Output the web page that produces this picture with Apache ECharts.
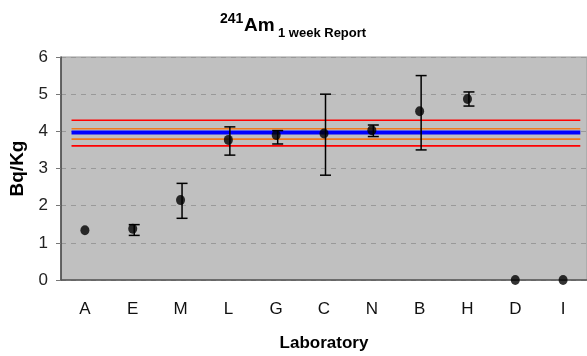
<!DOCTYPE html>
<html>
<head>
<meta charset="utf-8">
<script src="https://cdn.jsdelivr.net/npm/echarts@6/dist/echarts.min.js"></script>
<style>html,body{margin:0;padding:0;background:#fff}#c{width:587px;height:356px}</style>
</head>
<body>
<div id="c"></div>
<script>
var labs = ['A','E','M','L','G','C','N','B','H','D','I'];
var values = [1.34, 1.38, 2.15, 3.77, 3.90, 3.94, 4.03, 4.54, 4.87, 0, 0];
var errLow  = [null, 1.20, 1.66, 3.36, 3.66, 2.82, 3.86, 3.50, 4.68, null, null];
var errHigh = [null, 1.49, 2.60, 4.12, 4.02, 5.00, 4.17, 5.50, 5.06, null, null];
var refMean = 3.97;
var refOrange = [4.07, 3.79];
var refRed = [4.30, 3.61];
var refX = [0.22, 10.86];
var yTicks = [0, 1, 2, 3, 4, 5, 6];
var titleParts = ['241', 'Am', '1 week Report'];

var chart = echarts.init(document.getElementById('c'));
var font = 'Liberation Sans, Arial, sans-serif';

function hline(v, color, w, z) {
  return {
    type: 'line', xAxisIndex: 1, yAxisIndex: 0,
    data: [[refX[0], v], [refX[1], v]],
    symbol: 'none', silent: true, z: z,
    lineStyle: { color: color, width: w }
  };
}

var errData = [];
labs.forEach(function (l, i) {
  if (errLow[i] != null) errData.push([i, errLow[i], errHigh[i]]);
});

chart.setOption({
  animation: false,
  graphic: [
    { type: 'text', left: 220, top: 12, style: { text: titleParts[0], font: 'bold 14px ' + font, fill: '#000' } },
    { type: 'text', left: 244, top: 16, style: { text: titleParts[1], font: 'bold 19px ' + font, fill: '#000' } },
    { type: 'text', left: 278, top: 27, style: { text: titleParts[2], font: 'bold 13px ' + font, fill: '#000' } }
  ],
  grid: {
    left: 61, right: 0, top: 57, bottom: 76,
    containLabel: false, outerBoundsMode: 'none',
    show: true, backgroundColor: '#c0c0c0', borderColor: '#9a9a9a', borderWidth: 1
  },
  xAxis: [{
    type: 'category', data: labs,
    axisLine: { lineStyle: { color: '#555', width: 1.5 } },
    axisTick: { length: 5, lineStyle: { color: '#777' } },
    axisLabel: { fontFamily: font, fontSize: 17, color: '#111', margin: 21 },
    name: 'Laboratory', nameLocation: 'middle', nameGap: 55,
    nameTextStyle: { fontFamily: font, fontSize: 17, fontWeight: 'bold', color: '#000' }
  }, {
    type: 'value', min: 0, max: 11, show: false
  }],
  yAxis: [{
    type: 'value', min: 0, max: 6, interval: 1,
    axisLine: { show: true, lineStyle: { color: '#444', width: 1.5 } },
    axisTick: { show: true, length: 5, lineStyle: { color: '#777' } },
    axisLabel: { fontFamily: font, fontSize: 17, color: '#222', margin: 13,
      formatter: function (v) { return yTicks.indexOf(v) >= 0 ? String(v) : ''; } },
    splitLine: { show: true, lineStyle: { color: '#999', type: [5, 5], width: 1 } },
    name: 'Bq/Kg', nameLocation: 'middle', nameGap: 33,
    nameTextStyle: { fontFamily: font, fontSize: 19, fontWeight: 'bold', color: '#000' }
  }],
  series: [
    hline(refRed[0], '#ff0000', 1.6, 2),
    hline(refRed[1], '#ff0000', 1.6, 2),
    hline(refOrange[0], '#f07a20', 1.6, 2),
    hline(refOrange[1], '#f07a20', 1.6, 2),
    hline(refMean, '#0000ff', 4, 3),
    {
      type: 'custom', xAxisIndex: 0, yAxisIndex: 0, z: 4,
      data: errData,
      renderItem: function (params, api) {
        var x = api.value(0);
        var lo = api.coord([x, api.value(1)]);
        var hi = api.coord([x, api.value(2)]);
        var cx = lo[0] + 1.5, hw = 5.5;
        var st = { stroke: '#000', lineWidth: 1.5 };
        return {
          type: 'group',
          children: [
            { type: 'line', shape: { x1: cx, y1: lo[1], x2: cx, y2: hi[1] }, style: st },
            { type: 'line', shape: { x1: cx - hw, y1: lo[1], x2: cx + hw, y2: lo[1] }, style: st },
            { type: 'line', shape: { x1: cx - hw, y1: hi[1], x2: cx + hw, y2: hi[1] }, style: st }
          ]
        };
      }
    },
    {
      type: 'scatter', xAxisIndex: 0, yAxisIndex: 0, z: 5,
      data: values, symbol: 'circle', symbolSize: [9, 10],
      itemStyle: { color: '#000' }, clip: false
    }
  ]
});
</script>
</body>
</html>
